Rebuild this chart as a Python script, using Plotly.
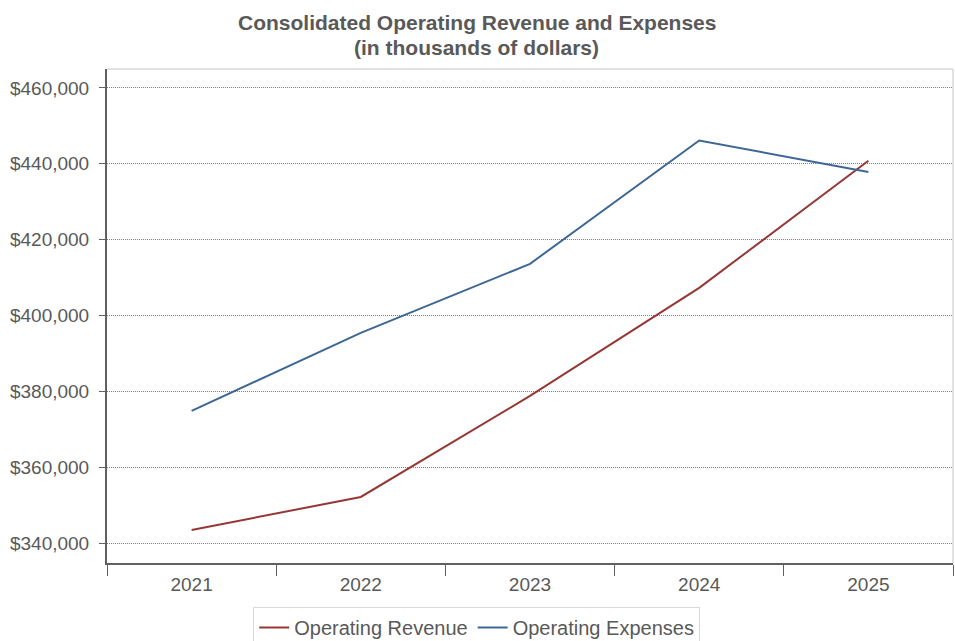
import plotly.graph_objects as go

years = ["2021", "2022", "2023", "2024", "2025"]
operating_revenue = [343430, 352140, 378790, 407280, 440790]
operating_expenses = [374830, 395410, 413620, 446150, 437810]
y_tick_values = [340000, 360000, 380000, 400000, 420000, 440000, 460000]
y_tick_labels = ["$340,000", "$360,000", "$380,000", "$400,000", "$420,000", "$440,000", "$460,000"]
title_lines = ["Consolidated Operating Revenue and Expenses", "(in thousands of dollars)"]

text_color = "#595959"
font_family = "Liberation Sans, Arial, sans-serif"

fig = go.Figure()
fig.add_trace(go.Scatter(
    x=years, y=operating_revenue, mode="lines", name="Operating Revenue",
    line=dict(color="#953735", width=2),
))
fig.add_trace(go.Scatter(
    x=years, y=operating_expenses, mode="lines", name="Operating Expenses",
    line=dict(color="#3e6795", width=2),
))

# two-line heading, placed as separate centred annotations
for line_text, ypos in zip(title_lines, [1.095, 1.044]):
    fig.add_annotation(
        text=f"<b>{line_text}</b>", xref="paper", yref="paper",
        x=0.437, y=ypos, xanchor="center", yanchor="middle", showarrow=False,
        font=dict(family=font_family, size=21, color=text_color),
    )

fig.update_layout(
    width=955, height=641,
    margin=dict(l=107, r=2, t=69, b=78),
    paper_bgcolor="white", plot_bgcolor="white",
    font=dict(family=font_family, color=text_color, size=19),
    showlegend=True,
    legend=dict(
        orientation="h", x=0.437, xanchor="center",
        yref="container", y=0.0530, yanchor="top",
        bordercolor="#d9d9d9", borderwidth=1,
        font=dict(size=20, color=text_color),
        itemwidth=30, tracegroupgap=0,
    ),
    xaxis=dict(
        type="category", range=[-0.5, 4.5],
        showline=True, linecolor="#606060", linewidth=2,
        ticks="outside", tickson="boundaries", ticklen=11, tickcolor="#606060",
        ticklabelstandoff=3,
        showgrid=False, mirror=False,
        tickfont=dict(size=19, color=text_color),
    ),
    yaxis=dict(
        range=[334725, 465000],
        tickvals=y_tick_values, ticktext=y_tick_labels,
        showline=True, linecolor="#606060", linewidth=2,
        ticks="outside", ticklen=6, tickcolor="#606060",
        ticklabelstandoff=6,
        showgrid=True, gridcolor="#808080", griddash="1px,1px", gridwidth=1,
        zeroline=False,
        tickfont=dict(size=19, color=text_color),
    ),
    shapes=[
        dict(type="line", xref="paper", yref="paper", x0=0, x1=1, y0=1, y1=1,
             line=dict(color="#d9d9d9", width=1.5)),
        dict(type="line", xref="paper", yref="paper", x0=1, x1=1, y0=0, y1=1,
             line=dict(color="#d9d9d9", width=1.5)),
    ],
)

fig.write_html("out.html")
